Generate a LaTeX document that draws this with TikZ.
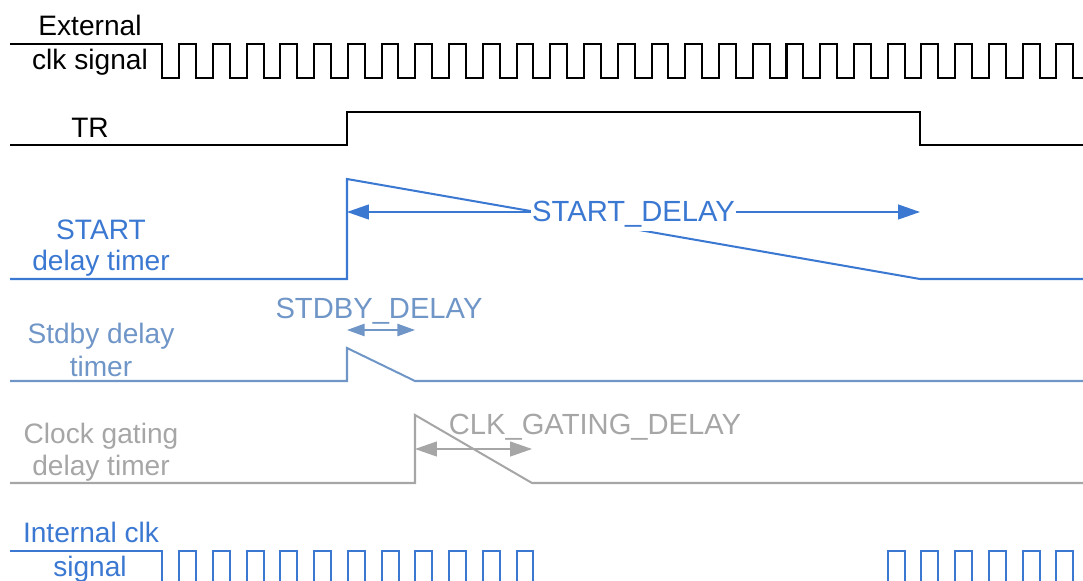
\documentclass[tikz,border=0pt]{standalone}
\usepackage{fontspec}
\setmainfont{Liberation Sans}
\usetikzlibrary{arrows.meta}
\definecolor{startblue}{RGB}{59,120,210}
\definecolor{stdbyblue}{RGB}{112,150,200}
\definecolor{gatinggray}{RGB}{166,166,166}
\begin{document}
\begin{tikzpicture}[x=0.02cm, y=-0.02cm,
            lbl/.style={font=\fontsize{16}{19}\selectfont, anchor=base, inner sep=0pt},
            dlbl/.style={font=\fontsize{16.6}{19}\selectfont, anchor=base, inner sep=0pt},
            sig/.style={line width=1.15pt, line join=miter},
            delay/.style={line width=0.8pt, {Triangle[length=12.5pt,width=8.5pt]}-{Triangle[length=12.5pt,width=8.5pt]}},
            shortdelay/.style={line width=0.8pt, {Triangle[length=10pt,width=7pt]}-{Triangle[length=10pt,width=7pt]}}
            ]
            \useasboundingbox (0,0) rectangle (1083,581);

            % labels on the left
            \node[lbl] (ext1) at (90,36) {External};
            \node[lbl] (ext2) at (90,70) {clk signal};
            \node[lbl] (tr) at (90,138) {TR};
            \node[lbl, startblue] (start1) at (101,239) {START};
            \node[lbl, startblue] (start2) at (101,271) {delay timer};
            \node[lbl, stdbyblue] (stdby1) at (101,343) {Stdby delay};
            \node[lbl, stdbyblue] (stdby2) at (101,377) {timer};
            \node[lbl, gatinggray] (gate1) at (101,443) {Clock gating};
            \node[lbl, gatinggray] (gate2) at (101,475) {delay timer};
            \node[lbl, startblue] (int1) at (91,542) {Internal clk};
            \node[lbl, startblue] (int2) at (90,576) {signal};

            % external clock
            \draw[sig] (10,44) -- (162.3,44)
                \foreach \k in {0,...,26} { -- ++(0,34) -- ++(16.87,0) -- ++(0,-34) -- ++(16.87,0) }
                -- ++(0,34) -- (1083,78);

            % TR
            \coordinate (trup) at (347,112);
            \coordinate (trdown) at (920,112);
            \draw[sig] (10,145) -- (trup |- 0,145) -- (trup) -- (trdown) -- (trdown |- 0,145) -- (1083,145);

            % START delay timer
            \coordinate (sd1) at (347,212);
            \coordinate (sd2) at (920,212);
            \draw[sig, startblue] (10,279) -- (347,279) -- (347,179) -- (920,279) -- (1083,279);
            \draw[delay, startblue] (sd1) -- (sd2);
            \node[dlbl, startblue, fill=white, inner xsep=0.5pt, inner ysep=2pt] (sdlbl) at (633.5,221.7) {START\_DELAY};

            % stdby delay timer
            \coordinate (st1) at (347,330);
            \coordinate (st2) at (415,330);
            \draw[sig, stdbyblue] (10,381) -- (347,381) -- (347,348) -- (415,381) -- (1083,381);
            \draw[shortdelay, stdbyblue] (st1) -- (st2);
            \node[dlbl, stdbyblue] (stlbl) at (379,318) {STDBY\_DELAY};

            % clock gating delay timer
            \coordinate (cg1) at (415,449);
            \coordinate (cg2) at (532,449);
            \draw[sig, gatinggray] (10,483) -- (415,483) -- (415,415) -- (532,483) -- (1083,483);
            \draw[delay, gatinggray] (cg1) -- (cg2);
            \node[dlbl, gatinggray] (cglbl) at (595,434) {CLK\_GATING\_DELAY};

            % internal clock
            \draw[sig, startblue] (10,551) -- (162.3,551) -- (162.3,581);
            \foreach \k in {0,...,10,21,22,...,26}
                \draw[sig, startblue] (179.2+33.74*\k,581) -- ++(0,-30) -- ++(16.87,0) -- ++(0,30);

\end{tikzpicture}
\end{document}
